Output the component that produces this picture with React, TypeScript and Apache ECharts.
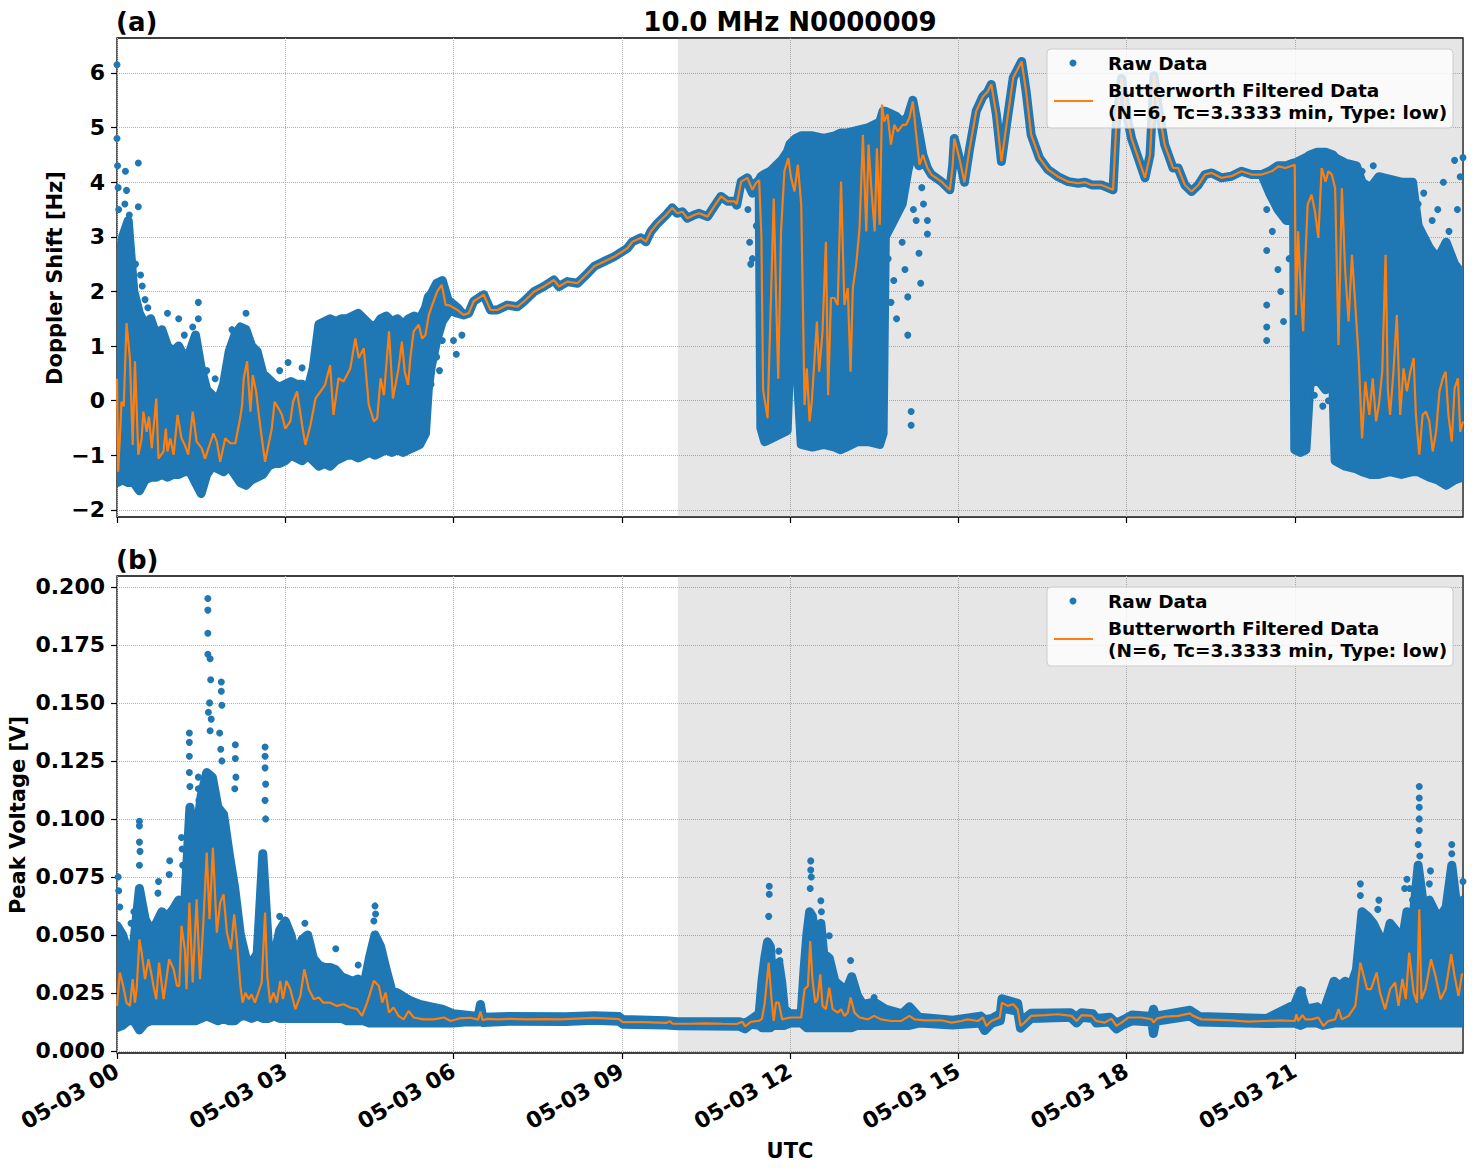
import React, { useEffect, useRef } from 'react';
import * as echarts from 'echarts';

const BLUE = '#1f77b4';
const ORANGE = '#ff7f0e';
const FONT = '"DejaVu Sans", "Liberation Sans", sans-serif';

const TITLE = '10.0 MHz N0000009';
const X_NAME = 'UTC';
const TOP_Y_NAME = 'Doppler Shift [Hz]';
const BOT_Y_NAME = 'Peak Voltage [V]';
const LEGEND_RAW = 'Raw Data';
const LEGEND_FILT_1 = 'Butterworth Filtered Data';
const LEGEND_FILT_2 = '(N=6, Tc=3.3333 min, Type: low)';

const HOUR_TICKS = [0, 3, 6, 9, 12, 15, 18, 21];
const DOPPLER_TICKS = [-2, -1, 0, 1, 2, 3, 4, 5, 6];
const VOLT_TICKS = [0, 0.025, 0.05, 0.075, 0.1, 0.125, 0.15, 0.175, 0.2];
const SHADE = [10, 24];

// Raw data envelope of the Doppler shift: [hour, low, high]
const TOP_RAW: number[][] = [
  [0.0,-1.5,2.2],[0.1,-1.45,3.0],[0.2,-1.5,3.3],[0.3,-1.5,2.0],[0.4,-1.65,1.6],[0.5,-1.45,1.4],[0.6,-1.4,1.5],[0.7,-1.4,1.2],[0.8,-1.35,1.3],[0.9,-1.4,1.0],
  [1.0,-1.35,0.9],[1.1,-1.35,1.0],[1.2,-1.3,0.8],[1.3,-1.3,0.9],[1.4,-1.5,1.2],[1.5,-1.7,0.6],[1.6,-1.35,0.2],[1.7,-1.2,0.1],[1.8,-1.25,0.0],[1.9,-1.3,0.3],
  [2.0,-1.2,0.9],[2.1,-1.35,1.2],[2.2,-1.5,1.35],[2.3,-1.55,1.3],[2.4,-1.45,1.0],[2.5,-1.4,0.9],[2.6,-1.35,0.5],[2.7,-1.2,0.4],[2.8,-1.15,0.3],[2.9,-1.15,0.25],
  [3.0,-1.1,0.3],[3.1,-1.0,0.35],[3.2,-1.05,0.3],[3.3,-1.1,0.3],[3.4,-1.0,0.2],[3.5,-1.1,0.6],[3.6,-1.2,1.4],[3.7,-1.15,1.45],[3.8,-1.2,1.5],[3.9,-1.1,1.45],
  [4.0,-1.05,1.5],[4.1,-1.0,1.5],[4.2,-1.0,1.55],[4.3,-1.05,1.6],[4.4,-1.0,1.5],[4.5,-0.95,1.4],[4.6,-1.0,1.35],[4.7,-0.95,1.5],[4.8,-0.9,1.55],[4.9,-0.95,1.45],
  [5.0,-0.9,1.5],[5.1,-0.95,1.4],[5.2,-0.9,1.5],[5.3,-0.85,1.55],[5.4,-0.8,1.5],[5.5,-0.6,1.7],[5.55,0.2,1.9],[5.6,0.6,1.95],[5.7,1.1,2.15],[5.8,1.45,2.2],
  [5.9,1.6,1.85],[5.95,1.65,1.8],[6.07,1.6,1.7],[6.18,1.57,1.57],[6.27,1.6,1.6],[6.36,1.82,1.82],[6.48,1.9,1.9],[6.54,1.94,1.94],[6.66,1.66,1.66],[6.78,1.66,1.66],
  [6.96,1.75,1.75],[7.14,1.72,1.72],[7.26,1.82,1.82],[7.44,2.0,2.0],[7.61,2.09,2.09],[7.79,2.21,2.21],[7.88,2.09,2.09],[8.03,2.18,2.18],[8.21,2.15,2.15],[8.39,2.33,2.33],
  [8.51,2.46,2.46],[8.69,2.55,2.55],[8.87,2.64,2.64],[9.01,2.73,2.73],[9.1,2.79,2.79],[9.19,2.91,2.91],[9.34,2.98,2.98],[9.43,2.91,2.91],[9.52,3.1,3.1],[9.64,3.25,3.25],
  [9.79,3.4,3.4],[9.9,3.53,3.53],[9.99,3.43,3.43],[10.08,3.46,3.46],[10.17,3.34,3.34],[10.29,3.4,3.4],[10.38,3.43,3.43],[10.53,3.37,3.37],[10.65,3.56,3.56],[10.77,3.74,3.74],
  [10.89,3.65,3.65],[11.01,3.65,3.65],[11.05,3.58,3.6],[11.13,4.01,4.01],[11.24,4.0,4.08],[11.33,3.8,3.86],[11.39,3.9,3.98],[11.45,3.9,4.04],[11.48,-0.5,4.1],[11.55,-0.75,4.15],
  [11.65,-0.7,4.2],[11.75,-0.65,4.3],[11.85,-0.6,4.4],[11.95,-0.55,4.55],[12.0,0.9,4.7],[12.1,1.0,4.8],[12.2,-0.8,4.85],[12.4,-0.85,4.85],[12.6,-0.8,4.8],[12.8,-0.85,4.85],
  [12.9,-0.9,4.9],[13.0,-0.85,4.9],[13.2,-0.75,4.95],[13.4,-0.75,5.0],[13.6,-0.8,5.1],[13.66,-0.6,5.3],[13.7,3.0,5.3],[13.8,3.2,5.25],[13.9,3.4,5.2],[14.0,3.6,5.1],
  [14.1,4.2,5.2],[14.19,4.6,5.5],[14.3,4.3,4.9],[14.37,4.45,4.5],[14.45,4.26,4.26],[14.52,4.14,4.14],[14.7,4.01,4.01],[14.85,3.86,3.86],[14.9,4.3,4.3],[14.93,4.8,4.8],
  [15.02,4.44,4.44],[15.11,4.0,4.0],[15.2,4.6,4.6],[15.32,5.3,5.3],[15.44,5.57,5.57],[15.52,5.65,5.65],[15.59,5.79,5.79],[15.68,5.24,5.24],[15.77,4.38,4.38],[15.86,5.05,5.05],
  [15.98,5.91,5.91],[16.13,6.21,6.21],[16.21,5.66,5.66],[16.3,4.87,4.87],[16.45,4.44,4.44],[16.6,4.23,4.23],[16.78,4.1,4.1],[16.96,4.01,4.01],[17.14,3.98,3.98],[17.26,4.0,4.0],
  [17.38,3.95,3.95],[17.55,3.95,3.95],[17.76,3.86,3.86],[17.82,5.1,5.1],[17.91,5.9,5.9],[18.03,5.1,5.1],[18.09,4.8,4.8],[18.21,4.44,4.44],[18.33,4.08,4.08],[18.42,4.5,4.5],
  [18.49,5.95,5.95],[18.56,5.42,5.42],[18.68,4.69,4.69],[18.83,4.26,4.26],[18.92,4.26,4.26],[19.04,3.95,3.95],[19.16,3.83,3.83],[19.28,3.95,3.95],[19.4,4.14,4.14],[19.52,4.17,4.17],
  [19.69,4.08,4.08],[19.87,4.11,4.11],[20.05,4.2,4.2],[20.23,4.14,4.14],[20.41,4.14,4.14],[20.55,3.8,4.2],[20.7,3.5,4.3],[20.85,3.3,4.3],[20.98,3.3,4.35],[21.0,-0.9,4.35],
  [21.1,-0.95,4.4],[21.2,-0.9,4.45],[21.27,0.3,4.5],[21.4,0.4,4.55],[21.55,0.2,4.55],[21.68,0.3,4.5],[21.72,-1.1,4.45],[21.9,-1.2,4.35],[22.1,-1.25,4.3],[22.2,-1.3,4.0],
  [22.35,-1.35,3.9],[22.5,-1.35,4.1],[22.7,-1.3,4.05],[22.9,-1.35,4.0],[23.1,-1.3,4.0],[23.2,-1.3,3.2],[23.4,-1.4,2.8],[23.55,-1.45,2.6],[23.7,-1.55,2.9],[23.85,-1.45,2.5],
  [24.0,-1.4,2.3]
];

// Isolated raw Doppler points: [hour, Hz]
const TOP_DOTS: number[][] = [
  [0.0,6.15],[0.0,4.8],[0.01,4.3],[0.02,3.9],[0.03,3.5],[0.08,2.9],[0.15,4.2],[0.17,3.85],[0.14,3.6],[0.22,3.4],
  [0.38,4.35],[0.38,3.55],[0.33,2.5],[0.42,2.3],[0.5,1.85],[0.55,1.7],[0.45,2.1],[0.9,1.6],[1.1,1.5],[1.2,1.2],
  [1.45,1.8],[1.45,1.5],[1.35,1.35],[1.6,0.55],[1.75,0.4],[2.05,1.3],[2.1,0.95],[2.3,1.6],[2.9,0.55],[3.05,0.7],
  [3.3,0.6],[5.55,0.1],[5.6,0.3],[5.7,0.8],[5.75,0.55],[5.8,1.1],[6.0,1.1],[6.05,0.85],[6.15,1.2],[11.25,3.5],
  [11.28,2.9],[11.3,2.5],[11.33,2.6],[11.4,3.2],[12.0,0.4],[12.1,0.6],[13.75,2.6],[13.8,1.8],[13.85,2.2],[13.9,1.5],
  [14.0,2.9],[14.05,2.4],[14.1,1.9],[14.1,1.2],[14.16,-0.2],[14.16,-0.45],[14.2,3.5],[14.25,3.3],[14.3,2.7],[14.33,2.15],
  [14.35,3.9],[14.38,3.6],[14.45,3.3],[14.45,3.05],[20.5,3.5],[20.5,2.75],[20.5,1.75],[20.5,1.35],[20.5,1.1],[20.6,3.1],
  [20.7,2.4],[20.75,2.0],[20.8,1.45],[20.9,2.6],[21.35,0.1],[21.5,-0.1],[21.6,0.0],[22.2,4.2],[22.3,3.7],[22.4,4.3],
  [23.2,3.6],[23.3,3.8],[23.45,3.3],[23.55,3.5],[23.65,4.0],[23.75,3.1],[23.85,4.4],[23.9,3.5],[23.95,4.1],[24.0,4.45]
];

// Butterworth filtered Doppler shift: [hour, Hz]
const TOP_FILT: number[][] = [
  [0.0,0.4],[0.02,-1.3],[0.06,-0.5],[0.08,-0.02],[0.12,-0.1],[0.17,1.42],[0.2,1.1],[0.23,0.78],[0.28,-0.81],[0.32,0.72],
  [0.38,-0.99],[0.44,-0.69],[0.47,-0.2],[0.53,-0.57],[0.57,-0.29],[0.62,-0.87],[0.7,0.04],[0.74,-1.06],[0.83,-0.93],[0.87,-0.51],
  [0.9,-0.93],[0.95,-0.69],[1.01,-0.99],[1.08,-0.26],[1.15,-0.69],[1.21,-0.81],[1.27,-0.99],[1.35,-0.2],[1.42,-0.75],[1.51,-0.87],
  [1.57,-1.06],[1.66,-0.78],[1.72,-0.6],[1.78,-0.75],[1.84,-1.12],[1.93,-0.69],[2.02,-0.78],[2.11,-0.78],[2.2,-0.3],[2.23,-0.08],
  [2.26,0.41],[2.32,0.72],[2.38,-0.2],[2.42,0.47],[2.48,0.17],[2.55,-0.44],[2.64,-1.12],[2.76,-0.51],[2.81,-0.02],[2.88,-0.14],
  [2.94,-0.26],[3.0,-0.51],[3.09,-0.38],[3.14,-0.02],[3.21,0.17],[3.3,-0.44],[3.36,-0.81],[3.45,-0.44],[3.54,0.04],[3.63,0.17],
  [3.71,0.29],[3.8,0.65],[3.86,-0.26],[3.95,0.41],[4.04,0.35],[4.16,0.59],[4.25,1.14],[4.31,0.78],[4.4,0.96],[4.49,-0.08],
  [4.58,-0.38],[4.64,-0.32],[4.7,0.41],[4.76,0.1],[4.85,1.27],[4.92,0.04],[5.02,0.59],[5.08,1.08],[5.13,0.53],[5.19,0.29],
  [5.23,0.78],[5.29,1.27],[5.38,1.39],[5.44,1.14],[5.5,1.2],[5.56,1.57],[5.62,1.75],[5.71,2.0],[5.79,2.12],[5.86,1.75],
  [5.92,1.75],[6.07,1.66],[6.18,1.57],[6.27,1.6],[6.36,1.82],[6.48,1.9],[6.54,1.94],[6.66,1.66],[6.78,1.66],[6.96,1.75],
  [7.14,1.72],[7.26,1.82],[7.44,2.0],[7.61,2.09],[7.79,2.21],[7.88,2.09],[8.03,2.18],[8.21,2.15],[8.39,2.33],[8.51,2.46],
  [8.69,2.55],[8.87,2.64],[9.01,2.73],[9.1,2.79],[9.19,2.91],[9.34,2.98],[9.43,2.91],[9.52,3.1],[9.64,3.25],[9.79,3.4],
  [9.9,3.53],[9.99,3.43],[10.08,3.46],[10.17,3.34],[10.29,3.4],[10.38,3.43],[10.53,3.37],[10.65,3.56],[10.77,3.74],[10.89,3.65],
  [11.01,3.65],[11.05,3.6],[11.13,4.01],[11.24,4.08],[11.33,3.86],[11.39,3.98],[11.45,4.04],[11.49,3.0],[11.52,0.2],[11.6,-0.32],
  [11.65,1.5],[11.71,3.7],[11.75,2.0],[11.79,0.4],[11.84,3.1],[11.9,4.2],[11.97,4.44],[12.02,4.08],[12.08,3.83],[12.14,4.32],
  [12.2,3.59],[12.26,-0.08],[12.3,0.59],[12.35,-0.38],[12.39,0.0],[12.43,0.65],[12.48,1.45],[12.52,0.53],[12.58,1.27],[12.64,2.91],
  [12.68,0.1],[12.73,1.88],[12.79,1.88],[12.85,1.75],[12.91,4.01],[12.97,1.75],[13.03,2.06],[13.08,0.53],[13.12,2.06],[13.18,2.49],
  [13.24,3.16],[13.3,4.87],[13.36,3.1],[13.4,4.69],[13.45,3.89],[13.51,3.1],[13.55,4.62],[13.6,3.22],[13.64,5.42],[13.68,5.11],
  [13.74,5.24],[13.8,4.69],[13.86,5.05],[13.92,4.93],[14.01,5.05],[14.07,5.05],[14.13,5.18],[14.19,5.48],[14.25,4.87],[14.31,4.32],
  [14.37,4.5],[14.45,4.26],[14.52,4.14],[14.7,4.01],[14.85,3.86],[14.9,4.3],[14.93,4.8],[15.02,4.44],[15.11,4.0],[15.2,4.6],
  [15.32,5.3],[15.44,5.57],[15.52,5.65],[15.59,5.79],[15.68,5.24],[15.77,4.38],[15.86,5.05],[15.98,5.91],[16.13,6.21],[16.21,5.66],
  [16.3,4.87],[16.45,4.44],[16.6,4.23],[16.78,4.1],[16.96,4.01],[17.14,3.98],[17.26,4.0],[17.38,3.95],[17.55,3.95],[17.76,3.86],
  [17.82,5.1],[17.91,5.9],[18.03,5.1],[18.09,4.8],[18.21,4.44],[18.33,4.08],[18.42,4.5],[18.49,5.95],[18.56,5.42],[18.68,4.69],
  [18.83,4.26],[18.92,4.26],[19.04,3.95],[19.16,3.83],[19.28,3.95],[19.4,4.14],[19.52,4.17],[19.69,4.08],[19.87,4.11],[20.05,4.2],
  [20.23,4.14],[20.41,4.14],[20.59,4.2],[20.71,4.29],[20.83,4.26],[20.95,4.3],[21.0,4.32],[21.02,1.57],[21.06,3.1],[21.09,2.37],
  [21.15,1.27],[21.18,2.37],[21.23,3.59],[21.3,3.77],[21.36,3.47],[21.42,2.98],[21.48,4.26],[21.55,4.01],[21.6,4.2],[21.66,4.14],
  [21.72,3.89],[21.78,1.02],[21.84,3.89],[21.9,2.37],[21.96,1.45],[22.02,2.67],[22.08,1.75],[22.14,0.78],[22.2,-0.69],[22.26,0.35],
  [22.33,-0.26],[22.39,0.41],[22.45,-0.38],[22.5,-0.08],[22.56,0.53],[22.62,2.67],[22.66,0.2],[22.7,-0.26],[22.76,0.53],[22.82,1.57],
  [22.88,-0.26],[22.94,0.59],[23.0,0.17],[23.06,0.53],[23.12,0.78],[23.16,-0.26],[23.22,-0.99],[23.28,-0.26],[23.34,-0.2],[23.4,-0.38],
  [23.46,-0.93],[23.52,-0.57],[23.58,0.17],[23.64,0.41],[23.69,0.53],[23.74,-0.26],[23.8,-0.75],[23.85,0.23],[23.91,0.41],[23.95,-0.57],
  [24.0,-0.38]
];

// Raw data envelope of the peak voltage: [hour, low, high]
const BOT_RAW: number[][] = [
  [0.0,0.010,0.054],[0.1,0.011,0.050],[0.2,0.013,0.042],[0.3,0.013,0.047],[0.4,0.009,0.070],[0.5,0.012,0.057],[0.6,0.013,0.052],[0.7,0.013,0.055],[0.8,0.013,0.060],[0.9,0.013,0.058],
  [1.0,0.013,0.061],[1.1,0.013,0.065],[1.2,0.013,0.060],[1.3,0.013,0.105],[1.4,0.013,0.090],[1.5,0.014,0.110],[1.6,0.015,0.120],[1.7,0.014,0.118],[1.8,0.013,0.105],[1.9,0.014,0.102],
  [2.0,0.013,0.085],[2.1,0.013,0.070],[2.2,0.015,0.050],[2.3,0.015,0.040],[2.4,0.014,0.038],[2.5,0.015,0.042],[2.6,0.014,0.085],[2.7,0.014,0.045],[2.8,0.015,0.040],[2.9,0.014,0.052],
  [3.0,0.014,0.056],[3.1,0.014,0.050],[3.2,0.014,0.040],[3.3,0.014,0.048],[3.4,0.014,0.050],[3.5,0.014,0.040],[3.6,0.014,0.037],[3.7,0.014,0.036],[3.8,0.014,0.036],[3.9,0.014,0.035],
  [4.0,0.014,0.032],[4.1,0.013,0.031],[4.2,0.013,0.030],[4.3,0.013,0.031],[4.4,0.013,0.028],[4.5,0.012,0.040],[4.6,0.012,0.050],[4.7,0.012,0.045],[4.8,0.012,0.035],[4.9,0.012,0.026],
  [5.0,0.012,0.025],[5.2,0.012,0.022],[5.4,0.012,0.020],[5.6,0.012,0.019],[5.8,0.012,0.018],[6.0,0.012,0.016],[6.2,0.0125,0.0155],[6.44,0.0125,0.0148],[6.48,0.013,0.020],[6.52,0.0122,0.0145],
  [7.0,0.0128,0.0148],[8.0,0.0127,0.0147],[8.5,0.0132,0.0152],[8.95,0.0128,0.0148],[9.02,0.0115,0.0135],[9.8,0.0112,0.013],[10.0,0.0108,0.0126],[11.1,0.0106,0.0126],[11.2,0.0095,0.0118],[11.3,0.0115,0.0135],
  [11.45,0.011,0.016],[11.5,0.010,0.030],[11.55,0.010,0.040],[11.6,0.010,0.047],[11.65,0.010,0.045],[11.7,0.011,0.025],[11.75,0.011,0.035],[11.8,0.011,0.038],[11.85,0.011,0.030],[11.9,0.011,0.018],
  [12.0,0.012,0.016],[12.2,0.012,0.016],[12.25,0.011,0.035],[12.3,0.010,0.050],[12.35,0.010,0.060],[12.4,0.010,0.058],[12.45,0.010,0.045],[12.5,0.010,0.050],[12.55,0.010,0.055],[12.6,0.010,0.042],
  [12.7,0.010,0.040],[12.8,0.010,0.030],[12.9,0.010,0.028],[13.0,0.010,0.026],[13.1,0.010,0.032],[13.2,0.011,0.024],[13.3,0.011,0.020],[13.5,0.011,0.021],[13.7,0.011,0.018],[14.0,0.011,0.016],
  [14.13,0.011,0.019],[14.3,0.012,0.0145],[14.9,0.0112,0.0132],[15.4,0.012,0.015],[15.47,0.0088,0.0135],[15.6,0.012,0.014],[15.75,0.013,0.016],[15.78,0.0185,0.0225],[16.06,0.017,0.0205],[16.11,0.0098,0.0125],
  [16.3,0.014,0.0162],[17.0,0.0145,0.0165],[17.11,0.012,0.0145],[17.2,0.0145,0.0165],[17.4,0.014,0.016],[17.46,0.012,0.014],[17.7,0.0125,0.0145],[17.82,0.0095,0.012],[17.95,0.0115,0.0135],[18.1,0.013,0.0155],
  [18.45,0.0125,0.0148],[18.48,0.0075,0.018],[18.52,0.0128,0.015],[19.13,0.015,0.0175],[19.3,0.0125,0.0148],[20.5,0.0118,0.014],[21.0,0.012,0.020],[21.1,0.011,0.026],[21.2,0.012,0.018],[21.4,0.012,0.019],
  [21.5,0.011,0.016],[21.7,0.012,0.030],[21.8,0.012,0.028],[21.9,0.012,0.030],[22.0,0.012,0.028],[22.1,0.012,0.035],[22.2,0.012,0.060],[22.3,0.012,0.058],[22.4,0.012,0.055],[22.5,0.012,0.050],
  [22.6,0.012,0.045],[22.7,0.012,0.055],[22.8,0.012,0.052],[22.9,0.012,0.045],[23.0,0.012,0.060],[23.1,0.012,0.055],[23.2,0.012,0.080],[23.3,0.012,0.062],[23.4,0.012,0.065],[23.5,0.012,0.060],
  [23.6,0.012,0.058],[23.7,0.012,0.062],[23.8,0.012,0.080],[23.9,0.012,0.060],[24.0,0.012,0.065]
];

// Isolated raw peak-voltage points: [hour, V]
const BOT_DOTS: number[][] = [
  [0.02,0.075],[0.03,0.069],[0.05,0.062],[0.3,0.060],[0.25,0.055],[0.4,0.099],[0.4,0.097],[0.4,0.090],[0.41,0.086],[0.4,0.08],
  [0.74,0.073],[0.73,0.068],[0.94,0.082],[0.93,0.076],[1.15,0.092],[1.16,0.087],[1.17,0.080],[1.29,0.137],[1.29,0.133],[1.29,0.127],
  [1.29,0.12],[1.3,0.114],[1.45,0.118],[1.45,0.113],[1.46,0.108],[1.62,0.195],[1.62,0.190],[1.62,0.180],[1.62,0.171],[1.66,0.169],
  [1.67,0.160],[1.65,0.150],[1.63,0.146],[1.68,0.143],[1.66,0.138],[1.86,0.159],[1.86,0.155],[1.87,0.149],[1.83,0.137],[1.85,0.130],
  [1.87,0.125],[2.11,0.132],[2.11,0.126],[2.12,0.118],[2.1,0.113],[2.64,0.131],[2.64,0.127],[2.64,0.122],[2.65,0.115],[2.64,0.108],
  [2.65,0.100],[2.9,0.058],[3.35,0.055],[3.9,0.044],[4.3,0.037],[4.6,0.0625],[4.61,0.059],[4.58,0.056],[11.63,0.071],[11.63,0.0675],
  [11.62,0.058],[11.8,0.043],[11.82,0.039],[12.37,0.0819],[12.37,0.078],[12.38,0.075],[12.36,0.070],[12.55,0.0647],[12.56,0.06],[12.7,0.0496],
  [13.08,0.039],[13.5,0.023],[15.78,0.021],[18.48,0.0075],[21.14,0.026],[22.17,0.072],[22.17,0.067],[22.5,0.065],[22.48,0.061],[23.0,0.074],
  [22.96,0.07],[23.22,0.114],[23.22,0.109],[23.22,0.105],[23.22,0.100],[23.22,0.095],[23.2,0.089],[23.23,0.084],[23.42,0.0776],[23.4,0.072],
  [23.8,0.089],[23.8,0.085],[23.82,0.078],[24.0,0.073],[23.1,0.065],[23.05,0.07]
];

// Butterworth filtered peak voltage: [hour, V]
const BOT_FILT: number[][] = [
  [0.0,0.0194],[0.05,0.0338],[0.11,0.028],[0.17,0.0208],[0.23,0.0194],[0.28,0.0309],[0.32,0.0208],[0.35,0.0266],[0.4,0.0481],[0.44,0.0424],
  [0.5,0.0309],[0.56,0.0395],[0.62,0.0323],[0.65,0.028],[0.7,0.0223],[0.75,0.0381],[0.83,0.0223],[0.93,0.0395],[1.01,0.0352],[1.07,0.028],
  [1.11,0.028],[1.15,0.0539],[1.21,0.0438],[1.24,0.0266],[1.29,0.0639],[1.35,0.0295],[1.42,0.0654],[1.48,0.0309],[1.54,0.0553],[1.6,0.0855],
  [1.65,0.0568],[1.71,0.0876],[1.78,0.051],[1.84,0.0639],[1.9,0.0675],[1.96,0.051],[2.03,0.0438],[2.09,0.0589],[2.14,0.0467],[2.2,0.028],
  [2.24,0.0208],[2.29,0.0251],[2.35,0.0223],[2.4,0.0244],[2.46,0.0208],[2.52,0.0251],[2.58,0.0295],[2.64,0.0596],[2.68,0.0323],[2.73,0.0208],
  [2.79,0.0251],[2.85,0.0208],[2.91,0.0302],[2.96,0.0223],[3.02,0.0302],[3.09,0.0266],[3.18,0.018],[3.27,0.0237],[3.34,0.0352],[3.42,0.0266],
  [3.51,0.0223],[3.6,0.023],[3.68,0.0208],[3.8,0.0208],[3.92,0.0194],[4.04,0.0201],[4.16,0.0187],[4.28,0.018],[4.37,0.0151],[4.46,0.0208],
  [4.58,0.0302],[4.67,0.028],[4.73,0.0208],[4.79,0.0251],[4.85,0.0165],[4.93,0.0187],[5.02,0.0151],[5.11,0.0136],[5.2,0.0172],[5.29,0.0144],
  [5.46,0.0136],[5.65,0.0136],[5.83,0.0144],[5.95,0.0129],[6.1,0.014],[6.3,0.0143],[6.44,0.0135],[6.48,0.017],[6.52,0.0132],[6.6,0.0138],
  [6.8,0.0136],[7.0,0.0138],[7.3,0.0136],[7.6,0.0137],[7.9,0.0136],[8.2,0.0139],[8.5,0.0142],[8.8,0.0139],[8.95,0.0137],[9.02,0.0124],
  [9.4,0.0124],[9.8,0.0121],[9.86,0.0128],[9.9,0.0118],[10.2,0.0117],[10.5,0.0119],[10.8,0.0117],[11.05,0.0116],[11.15,0.0126],[11.2,0.0106],
  [11.3,0.0125],[11.45,0.013],[11.5,0.0138],[11.55,0.0208],[11.62,0.0381],[11.67,0.0223],[11.71,0.0129],[11.75,0.0208],[11.8,0.0208],[11.86,0.0136],
  [12.0,0.0144],[12.2,0.0144],[12.26,0.0266],[12.32,0.028],[12.36,0.0474],[12.4,0.0309],[12.45,0.0208],[12.49,0.0223],[12.54,0.033],[12.58,0.0194],
  [12.64,0.018],[12.7,0.0273],[12.76,0.018],[12.85,0.0165],[12.91,0.018],[12.97,0.0151],[13.03,0.0165],[13.08,0.023],[13.15,0.0165],[13.24,0.0144],
  [13.39,0.0136],[13.5,0.0151],[13.62,0.0136],[13.8,0.0129],[13.98,0.0129],[14.13,0.0151],[14.22,0.0136],[14.4,0.0132],[14.7,0.0132],[14.88,0.0122],
  [15.05,0.0129],[15.17,0.0136],[15.35,0.0129],[15.44,0.0144],[15.5,0.0108],[15.59,0.0129],[15.74,0.0144],[15.78,0.0208],[15.88,0.0194],[15.98,0.0201],
  [16.06,0.018],[16.11,0.0108],[16.18,0.0122],[16.3,0.0151],[16.54,0.0154],[16.78,0.0158],[17.02,0.0151],[17.11,0.0129],[17.2,0.0154],[17.38,0.0151],
  [17.46,0.0129],[17.61,0.0122],[17.73,0.0139],[17.82,0.0108],[17.91,0.0122],[18.03,0.0144],[18.27,0.0144],[18.45,0.0136],[18.48,0.0122],[18.54,0.0139],
  [18.69,0.0148],[18.92,0.0151],[19.13,0.0162],[19.19,0.0151],[19.34,0.0136],[19.64,0.0134],[19.88,0.0132],[20.17,0.0126],[20.46,0.0129],[20.76,0.0132],
  [21.0,0.0129],[21.03,0.0158],[21.06,0.0129],[21.14,0.0154],[21.19,0.0136],[21.3,0.0136],[21.42,0.0144],[21.51,0.0108],[21.6,0.0129],[21.72,0.0136],
  [21.78,0.018],[21.84,0.0136],[21.96,0.0151],[22.08,0.0194],[22.17,0.038],[22.23,0.0323],[22.29,0.0266],[22.36,0.0266],[22.46,0.0338],[22.52,0.0251],
  [22.61,0.018],[22.7,0.0266],[22.79,0.0295],[22.85,0.0194],[22.92,0.031],[22.98,0.0223],[23.04,0.0424],[23.12,0.0251],[23.18,0.0208],[23.22,0.0611],
  [23.26,0.0223],[23.33,0.0266],[23.43,0.0395],[23.51,0.0323],[23.6,0.0223],[23.69,0.0266],[23.79,0.0417],[23.85,0.0323],[23.92,0.0237],[23.98,0.033],
  [24.0,0.033]
];

const pad2 = (n: number) => (n < 10 ? '0' : '') + n;

function bandSeries(rows: number[][], idx: number) {
  return {
    type: 'custom',
    name: LEGEND_RAW,
    xAxisIndex: idx,
    yAxisIndex: idx,
    clip: true,
    silent: true,
    z: 3,
    data: [[rows[0][0], rows[0][1]]],
    renderItem: (_params: any, api: any) => {
      const upper = rows.map((r) => api.coord([r[0], r[2]]));
      const lower = rows.slice().reverse().map((r) => api.coord([r[0], r[1]]));
      return {
        type: 'polygon',
        shape: { points: upper.concat(lower) },
        style: { fill: BLUE, stroke: BLUE, lineWidth: 9, lineJoin: 'round' },
      };
    },
  };
}

function dotSeries(rows: number[][], idx: number) {
  return {
    type: 'scatter',
    name: LEGEND_RAW,
    xAxisIndex: idx,
    yAxisIndex: idx,
    data: rows,
    symbol: 'circle',
    symbolSize: 7,
    itemStyle: { color: BLUE, opacity: 1 },
    silent: true,
    z: 4,
  };
}

function filtSeries(rows: number[][], idx: number) {
  return {
    type: 'line',
    name: LEGEND_FILT_1,
    xAxisIndex: idx,
    yAxisIndex: idx,
    data: rows,
    showSymbol: false,
    symbol: 'none',
    lineStyle: { color: ORANGE, width: 2.2 },
    silent: true,
    z: 5,
  };
}

function shadeSeries(idx: number) {
  return {
    type: 'line',
    xAxisIndex: idx,
    yAxisIndex: idx,
    data: [],
    silent: true,
    z: 1,
    markArea: {
      silent: true,
      itemStyle: { color: 'rgba(128,128,128,0.2)' },
      data: [[{ xAxis: SHADE[0] }, { xAxis: SHADE[1] }]],
    },
  };
}

const tickLabel = { fontFamily: FONT, fontWeight: 'bold', fontSize: 22, color: '#000' };
const splitLine = { show: true, lineStyle: { color: '#b0b0b0', type: 'dotted', width: 1 } };
const axisTick = { show: true, length: 6, lineStyle: { color: '#000', width: 1.2 } };

function legendGraphics(dy: number) {
  const txt = (text: string, y: number) => ({
    type: 'text',
    z: 100,
    x: 1108,
    y: y + dy,
    style: { text, fill: '#000', font: `bold 18.5px ${FONT}`, textAlign: 'left', textVerticalAlign: 'middle' },
  });
  return [
    {
      type: 'rect',
      z: 99,
      shape: { x: 1047, y: 49 + dy, width: 406, height: 79, r: 4 },
      style: { fill: 'rgba(255,255,255,0.8)', stroke: '#cccccc', lineWidth: 1 },
    },
    { type: 'circle', z: 100, shape: { cx: 1073, cy: 63 + dy, r: 3.5 }, style: { fill: BLUE } },
    { type: 'line', z: 100, shape: { x1: 1054, y1: 101 + dy, x2: 1093, y2: 101 + dy }, style: { stroke: ORANGE, lineWidth: 2.2 } },
    txt(LEGEND_RAW, 63),
    txt(LEGEND_FILT_1, 90),
    txt(LEGEND_FILT_2, 112),
  ];
}

export default function App() {
  const ref = useRef<HTMLDivElement>(null);
  useEffect(() => {
    if (!ref.current) return;
    const chart = echarts.init(ref.current, undefined, { renderer: 'svg' });
    const option: any = {
      animation: false,
      backgroundColor: '#ffffff',
      grid: [
        { left: 117, width: 1346, top: 38, height: 479, show: true, borderColor: '#000', borderWidth: 1.3, backgroundColor: 'transparent' },
        { left: 117, width: 1346, top: 576, height: 477, show: true, borderColor: '#000', borderWidth: 1.3, backgroundColor: 'transparent' },
      ],
      xAxis: [0, 1].map((i) => ({
        type: 'value',
        gridIndex: i,
        min: 0,
        max: 24,
        position: 'bottom',
        axisLine: { show: false, onZero: false },
        axisTick: { ...axisTick, customValues: HOUR_TICKS },
        splitLine,
        axisLabel: {
          show: i === 1,
          ...tickLabel,
          rotate: 30,
          margin: 16,
          customValues: HOUR_TICKS,
          formatter: (v: number) => '05-03 ' + pad2(Math.round(v)),
        },
      })),
      yAxis: [
        {
          type: 'value',
          gridIndex: 0,
          min: -2.13,
          max: 6.64,
          axisLine: { show: false, onZero: false },
          axisTick: { ...axisTick, customValues: DOPPLER_TICKS },
          splitLine,
          axisLabel: {
            ...tickLabel,
            margin: 12,
            customValues: DOPPLER_TICKS,
            formatter: (v: number) => String(v).replace('-', '\u2212'),
          },
        },
        {
          type: 'value',
          gridIndex: 1,
          min: -0.0009,
          max: 0.2047,
          axisLine: { show: false, onZero: false },
          axisTick: { ...axisTick, customValues: VOLT_TICKS },
          splitLine,
          axisLabel: {
            ...tickLabel,
            margin: 12,
            customValues: VOLT_TICKS,
            formatter: (v: number) => v.toFixed(3),
          },
        },
      ],
      series: [
        shadeSeries(0),
        bandSeries(TOP_RAW, 0),
        dotSeries(TOP_DOTS, 0),
        filtSeries(TOP_FILT, 0),
        shadeSeries(1),
        bandSeries(BOT_RAW, 1),
        dotSeries(BOT_DOTS, 1),
        filtSeries(BOT_FILT, 1),
      ],
      graphic: [
        {
          type: 'text', z: 100, x: 790, y: 22,
          style: { text: TITLE, fill: '#000', font: `bold 26px ${FONT}`, textAlign: 'center', textVerticalAlign: 'middle' },
        },
        {
          type: 'text', z: 100, x: 116, y: 22,
          style: { text: '(a)', fill: '#000', font: `bold 26px ${FONT}`, textAlign: 'left', textVerticalAlign: 'middle' },
        },
        {
          type: 'text', z: 100, x: 116, y: 560,
          style: { text: '(b)', fill: '#000', font: `bold 26px ${FONT}`, textAlign: 'left', textVerticalAlign: 'middle' },
        },
        {
          type: 'text', z: 100, x: 55, y: 278, rotation: Math.PI / 2,
          style: { text: TOP_Y_NAME, fill: '#000', font: `bold 21px ${FONT}`, textAlign: 'center', textVerticalAlign: 'middle' },
        },
        {
          type: 'text', z: 100, x: 18, y: 815, rotation: Math.PI / 2,
          style: { text: BOT_Y_NAME, fill: '#000', font: `bold 21px ${FONT}`, textAlign: 'center', textVerticalAlign: 'middle' },
        },
        {
          type: 'text', z: 100, x: 790, y: 1151,
          style: { text: X_NAME, fill: '#000', font: `bold 21px ${FONT}`, textAlign: 'center', textVerticalAlign: 'middle' },
        },
        ...legendGraphics(0),
        ...legendGraphics(538),
      ],
    };
    chart.setOption(option);
    return () => chart.dispose();
  }, []);
  return (
    <div
      ref={ref}
      style={{ position: 'fixed', left: 0, top: 0, width: 1472, height: 1172, background: '#fff' }}
    />
  );
}
